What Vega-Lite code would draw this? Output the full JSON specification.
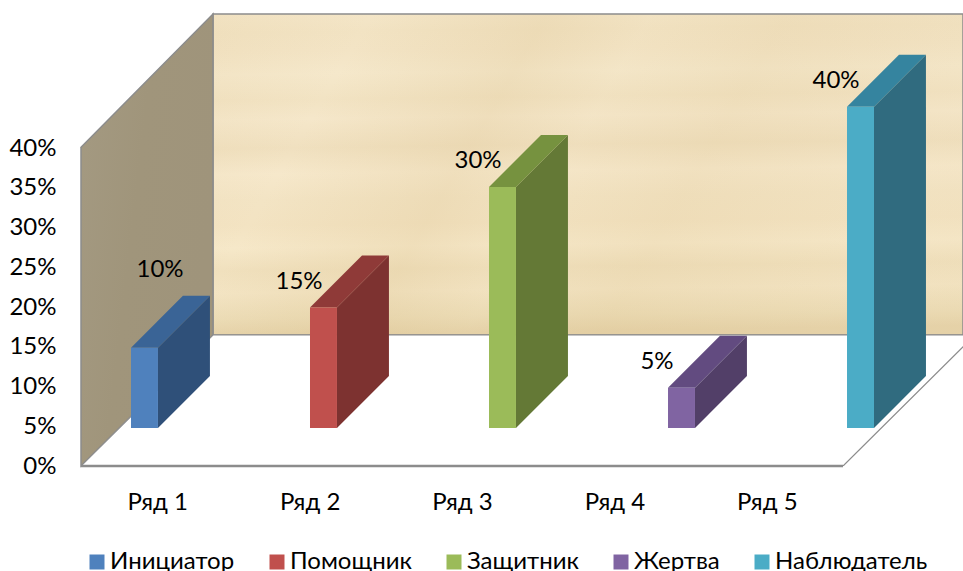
{
  "$schema": "https://vega.github.io/schema/vega-lite/v6.json",
  "width": 882,
  "height": 456,
  "padding": {"left": 81, "top": 10, "right": 0, "bottom": 105},
  "autosize": "none",
  "background": "white",
  "config": {
    "view": {"stroke": null},
    "font": "Lato",
    "text": {"font": "Lato", "fontSize": 24, "color": "#000000"},
    "axis": {"title": null, "domain": false, "ticks": false, "grid": false, "labelFont": "Lato", "labelFontSize": 24, "labelColor": "#000000"},
    "axisX": {"labelExpr": "'Ряд ' + ceil(datum.value)", "labelPadding": 24},
    "axisY": {"labelExpr": "datum.value + '%'", "labelPadding": 25}
  },
  "datasets": {
    "shares": [
      {"series": "Инициатор", "rank": 0, "value": 10},
      {"series": "Помощник", "rank": 1, "value": 15},
      {"series": "Защитник", "rank": 2, "value": 30},
      {"series": "Жертва", "rank": 3, "value": 5},
      {"series": "Наблюдатель", "rank": 4, "value": 40}
    ]
  },
  "layer": [
    {
      "layer": [
        {
          "data": {"values": [{"x": 0.866, "x2": 5.787, "y": 16.48, "y2": 56.86}]},
          "mark": {
            "type": "rect",
            "clip": true,
            "fill": {
              "gradient": "linear", "x1": 0, "y1": 0, "x2": 0.03, "y2": 1,
              "stops": [
                {"offset": 0, "color": "#f4e6c8"},
                {"offset": 0.06, "color": "#f2e3c3"},
                {"offset": 0.12, "color": "#f3e4c5"},
                {"offset": 0.19, "color": "#f5e8cb"},
                {"offset": 0.27, "color": "#f2e3c3"},
                {"offset": 0.33, "color": "#f5e7ca"},
                {"offset": 0.42, "color": "#f0e0bf"},
                {"offset": 0.5, "color": "#f6e8cb"},
                {"offset": 0.58, "color": "#f3e4c4"},
                {"offset": 0.66, "color": "#f3e3c2"},
                {"offset": 0.73, "color": "#f6e8c9"},
                {"offset": 0.8, "color": "#f0e0bd"},
                {"offset": 0.87, "color": "#f3e4c3"},
                {"offset": 0.95, "color": "#ecdcb6"},
                {"offset": 1, "color": "#e6d3aa"}
              ]
            }
          },
          "encoding": {
            "x": {"field": "x", "type": "quantitative", "scale": {"domain": [0, 5.787], "nice": false, "zero": false}, "axis": {"values": [0.5, 1.5, 2.5, 3.5, 4.5]}},
            "x2": {"field": "x2"},
            "y": {"field": "y", "type": "quantitative", "scale": {"domain": [0, 57.36], "nice": false, "zero": false}, "axis": {"values": [0, 5, 10, 15, 20, 25, 30, 35, 40]}},
            "y2": {"field": "y2"}
          }
        },
        {
          "data": {"values": [{"x": 0.866, "x2": 5.787, "y": 16.48, "y2": 56.86}]},
          "mark": {
            "type": "rect",
            "clip": true,
            "stroke": "#8c8c8c",
            "strokeWidth": 1.5,
            "fill": {
              "gradient": "linear", "x1": 0, "y1": 0, "x2": 1, "y2": 0.25,
              "stops": [
                {"offset": 0, "color": "rgba(214,186,130,0.10)"},
                {"offset": 0.2, "color": "rgba(214,186,130,0)"},
                {"offset": 0.42, "color": "rgba(214,186,130,0.2)"},
                {"offset": 0.55, "color": "rgba(214,186,130,0.05)"},
                {"offset": 0.72, "color": "rgba(214,186,130,0.16)"},
                {"offset": 1, "color": "rgba(214,186,130,0.06)"}
              ]
            }
          },
          "encoding": {
            "x": {"field": "x", "type": "quantitative", "scale": {"domain": [0, 5.787], "nice": false, "zero": false}, "axis": {"values": [0.5, 1.5, 2.5, 3.5, 4.5]}},
            "x2": {"field": "x2"},
            "y": {"field": "y", "type": "quantitative", "scale": {"domain": [0, 57.36], "nice": false, "zero": false}, "axis": {"values": [0, 5, 10, 15, 20, 25, 30, 35, 40]}},
            "y2": {"field": "y2"}
          }
        },
        {
          "data": {"values": [{"x": 0, "low": 0, "high": 40.1}, {"x": 0.866, "low": 16.48, "high": 56.86}]},
          "mark": {
            "type": "area",
            "stroke": "#8c8c8c",
            "strokeWidth": 1.5,
            "fill": {
              "gradient": "linear", "x1": 0, "y1": 0, "x2": 1, "y2": 0.4,
              "stops": [
                {"offset": 0, "color": "#a49a82"},
                {"offset": 0.5, "color": "#a0957b"},
                {"offset": 1, "color": "#9f947b"}
              ]
            }
          },
          "encoding": {
            "x": {"field": "x", "type": "quantitative", "scale": {"domain": [0, 5.787], "nice": false, "zero": false}, "axis": {"values": [0.5, 1.5, 2.5, 3.5, 4.5]}},
            "y": {"field": "low", "type": "quantitative", "scale": {"domain": [0, 57.36], "nice": false, "zero": false}, "axis": {"values": [0, 5, 10, 15, 20, 25, 30, 35, 40]}},
            "y2": {"field": "high"}
          }
        },
        {
          "data": {"values": [{"depth": 0, "x": 0, "x2": 5}, {"depth": 16.48, "x": 0.866, "x2": 5.866}]},
          "mark": {"type": "area", "orient": "horizontal", "clip": true, "fill": "#ffffff", "stroke": "#8c8c8c", "strokeWidth": 1.2},
          "encoding": {
            "y": {"field": "depth", "type": "quantitative", "scale": {"domain": [0, 57.36], "nice": false, "zero": false}, "axis": {"values": [0, 5, 10, 15, 20, 25, 30, 35, 40]}},
            "x": {"field": "x", "type": "quantitative", "scale": {"domain": [0, 5.787], "nice": false, "zero": false}, "axis": {"values": [0.5, 1.5, 2.5, 3.5, 4.5]}},
            "x2": {"field": "x2"}
          }
        },
        {
          "data": {"values": [{"x": 0, "x2": 5, "y": 0}]},
          "mark": {"type": "rule", "stroke": "#8c8c8c", "strokeWidth": 2.5},
          "encoding": {
            "x": {"field": "x", "type": "quantitative", "scale": {"domain": [0, 5.787], "nice": false, "zero": false}, "axis": {"values": [0.5, 1.5, 2.5, 3.5, 4.5]}},
            "x2": {"field": "x2"},
            "y": {"field": "y", "type": "quantitative", "scale": {"domain": [0, 57.36], "nice": false, "zero": false}, "axis": {"values": [0, 5, 10, 15, 20, 25, 30, 35, 40]}}
          }
        }
      ]
    },
    {
      "data": {"name": "shares"},
      "transform": [
        {"calculate": "0.328 + datum.rank * 1.1745", "as": "left"},
        {"calculate": "[0, 1]", "as": "t"},
        {"flatten": ["t"]}
      ],
      "layer": [
        {
          "transform": [
            {"calculate": "datum.left + 0.177 + datum.t * 0.341", "as": "sx"},
            {"calculate": "datum.t * 6.48", "as": "low"},
            {"calculate": "datum.value + datum.t * 6.48", "as": "high"}
          ],
          "mark": {"type": "area", "clip": true},
          "encoding": {
            "x": {"field": "sx", "type": "quantitative", "scale": {"domain": [0, 5.787], "nice": false, "zero": false}, "axis": {"values": [0.5, 1.5, 2.5, 3.5, 4.5]}},
            "y": {"field": "low", "type": "quantitative", "scale": {"domain": [-4.73, 52.05], "nice": false, "zero": false}, "axis": null},
            "y2": {"field": "high"},
            "color": {"field": "series", "type": "nominal", "legend": null,
              "scale": {"domain": ["Инициатор", "Помощник", "Защитник", "Жертва", "Наблюдатель"], "range": ["#2f5079", "#7d3230", "#647936", "#523f68", "#306b7f"]}}
          }
        },
        {
          "transform": [
            {"calculate": "datum.value + datum.t * 6.48", "as": "level"},
            {"calculate": "datum.left + datum.t * 0.341", "as": "tx"},
            {"calculate": "datum.left + 0.177 + datum.t * 0.341", "as": "tx2"}
          ],
          "mark": {"type": "area", "orient": "horizontal", "clip": true},
          "encoding": {
            "y": {"field": "level", "type": "quantitative", "scale": {"domain": [-4.73, 52.05], "nice": false, "zero": false}, "axis": null},
            "x": {"field": "tx", "type": "quantitative", "scale": {"domain": [0, 5.787], "nice": false, "zero": false}, "axis": {"values": [0.5, 1.5, 2.5, 3.5, 4.5]}},
            "x2": {"field": "tx2"},
            "color": {"field": "series", "type": "nominal", "legend": null,
              "scale": {"domain": ["Инициатор", "Помощник", "Защитник", "Жертва", "Наблюдатель"], "range": ["#3a6496", "#8f3a38", "#76923f", "#624b80", "#35849f"]}}
          }
        },
        {
          "transform": [
            {"filter": "datum.t === 0"},
            {"calculate": "datum.left + 0.177", "as": "right"}
          ],
          "mark": {"type": "rect"},
          "encoding": {
            "x": {"field": "left", "type": "quantitative", "scale": {"domain": [0, 5.787], "nice": false, "zero": false}, "axis": {"values": [0.5, 1.5, 2.5, 3.5, 4.5]}},
            "x2": {"field": "right"},
            "y": {"field": "value", "type": "quantitative", "scale": {"domain": [-4.73, 52.05], "nice": false, "zero": false}, "axis": null},
            "y2": {"datum": 0},
            "color": {"field": "series", "type": "nominal",
              "scale": {"domain": ["Инициатор", "Помощник", "Защитник", "Жертва", "Наблюдатель"], "range": ["#4f81bd", "#c0504d", "#9bbb59", "#8064a2", "#4bacc6"]},
              "legend": {
                "title": null, "orient": "none", "legendX": 4, "legendY": 540, "direction": "horizontal", "columns": 5,
                "symbolType": "square", "symbolSize": 225, "symbolStrokeWidth": 0, "labelFont": "Lato", "labelFontSize": 24, "labelColor": "#000000",
                "labelOffset": 1, "columnPadding": 30, "labelLimit": 300
              }
            }
          }
        },
        {
          "transform": [
            {"filter": "datum.t === 0 && datum.rank > 0"},
            {"calculate": "datum.value + '%'", "as": "caption"}
          ],
          "mark": {"type": "text", "align": "center", "baseline": "middle", "dx": -11, "dy": -26},
          "encoding": {
            "x": {"field": "left", "type": "quantitative", "scale": {"domain": [0, 5.787], "nice": false, "zero": false}, "axis": {"values": [0.5, 1.5, 2.5, 3.5, 4.5]}},
            "y": {"field": "value", "type": "quantitative", "scale": {"domain": [-4.73, 52.05], "nice": false, "zero": false}, "axis": null},
            "text": {"field": "caption"}
          }
        },
        {
          "transform": [
            {"filter": "datum.t === 0 && datum.rank === 0"},
            {"calculate": "datum.value + '%'", "as": "caption"}
          ],
          "mark": {"type": "text", "align": "center", "baseline": "middle", "dx": 29, "dy": -78},
          "encoding": {
            "x": {"field": "left", "type": "quantitative", "scale": {"domain": [0, 5.787], "nice": false, "zero": false}, "axis": {"values": [0.5, 1.5, 2.5, 3.5, 4.5]}},
            "y": {"field": "value", "type": "quantitative", "scale": {"domain": [-4.73, 52.05], "nice": false, "zero": false}, "axis": null},
            "text": {"field": "caption"}
          }
        }
      ],
      "resolve": {"scale": {"color": "independent"}}
    }
  ],
  "resolve": {"scale": {"y": "independent"}}
}
